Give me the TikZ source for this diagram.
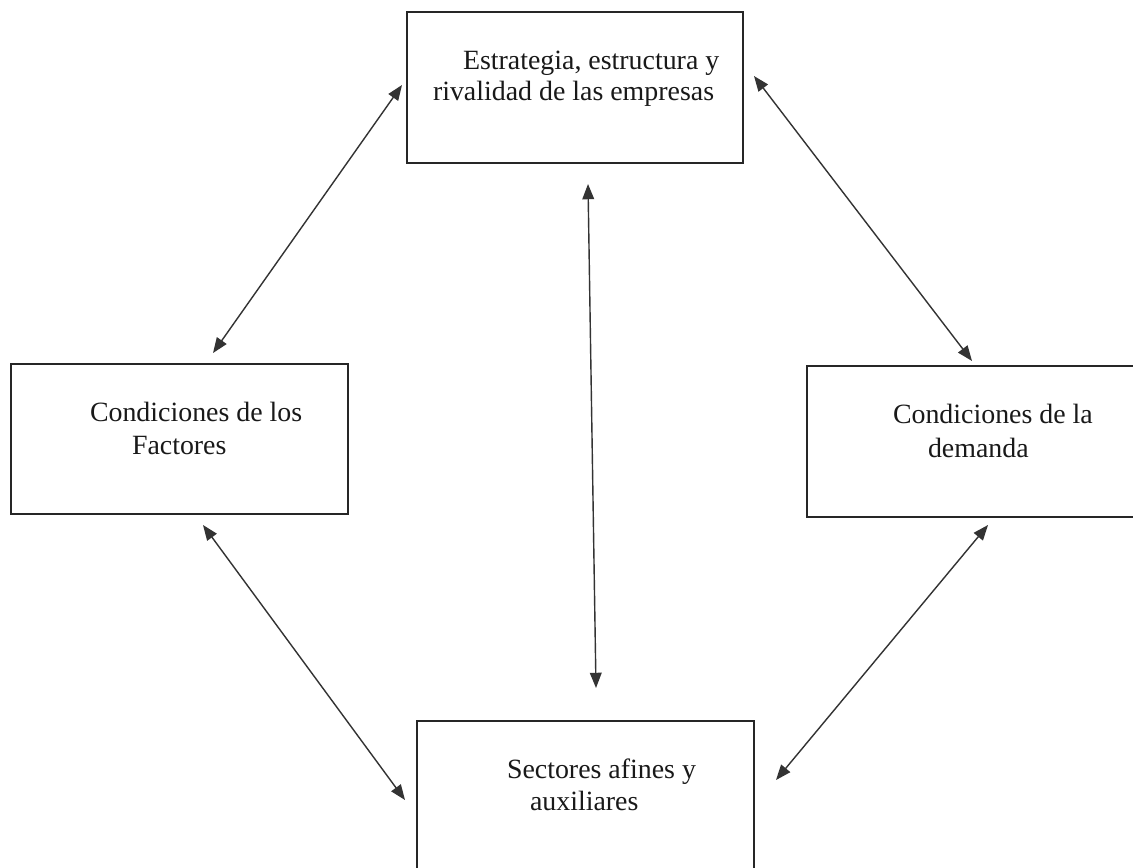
\documentclass[tikz,border=0pt]{standalone}
\usepackage{fontspec}
\setmainfont{Liberation Serif}
\usetikzlibrary{arrows.meta}
\begin{document}
\begin{tikzpicture}[x=0.03cm,y=-0.03cm,
  box/.style={draw=black!85,line width=1.4pt,rectangle,inner sep=0pt,outer sep=0pt},
  lbl/.style={anchor=base west,inner sep=0pt,outer sep=0pt,font=\fontsize{23.8pt}{27.5pt}\selectfont,text=black!90},
  link/.style={draw=black!80,line width=1.2pt,{Triangle[length=13pt,width=10pt]}-{Triangle[length=13pt,width=10pt]}}]
\useasboundingbox (0,0) rectangle (1133,867);
\clip (0,0) rectangle (1133,867);
\fill[white] (0,0) rectangle (1133,867);
% boxes
\node[box,minimum width=10.08cm,minimum height=4.53cm] (top) at (575,87.5) {};
\node[box,minimum width=10.11cm,minimum height=4.5cm] (left) at (179.5,439) {};
\node[box,minimum width=10.14cm,minimum height=4.53cm] (right) at (976,441.5) {};
\node[box,minimum width=10.11cm,minimum height=4.77cm] (bottom) at (585.5,800.5) {};
% texts
\node[lbl] (t1) at (463,69) {Estrategia, estructura y};
\node[lbl] (t2) at (433,100) {rivalidad de las empresas};
\node[lbl] (l1) at (90,421) {Condiciones de los};
\node[lbl] (l2) at (132,454) {Factores};
\node[lbl] (r1) at (893,423) {Condiciones de la};
\node[lbl] (r2) at (928,457) {demanda};
\node[lbl] (b1) at (507,778) {Sectores afines y};
\node[lbl] (b2) at (530,810) {auxiliares};
% connector end points
\coordinate (a1s) at (213,353); \coordinate (a1e) at (402,85);
\coordinate (a2s) at (754,76);  \coordinate (a2e) at (972,361);
\coordinate (a3s) at (588,184); \coordinate (a3e) at (596,688);
\coordinate (a4s) at (203,525); \coordinate (a4e) at (405,800);
\coordinate (a5s) at (988,525); \coordinate (a5e) at (776,780);
\draw[link] (a1s) -- (a1e);
\draw[link] (a2s) -- (a2e);
\draw[link] (a3s) -- (a3e);
\draw[link] (a4s) -- (a4e);
\draw[link] (a5s) -- (a5e);
\end{tikzpicture}
\end{document}
